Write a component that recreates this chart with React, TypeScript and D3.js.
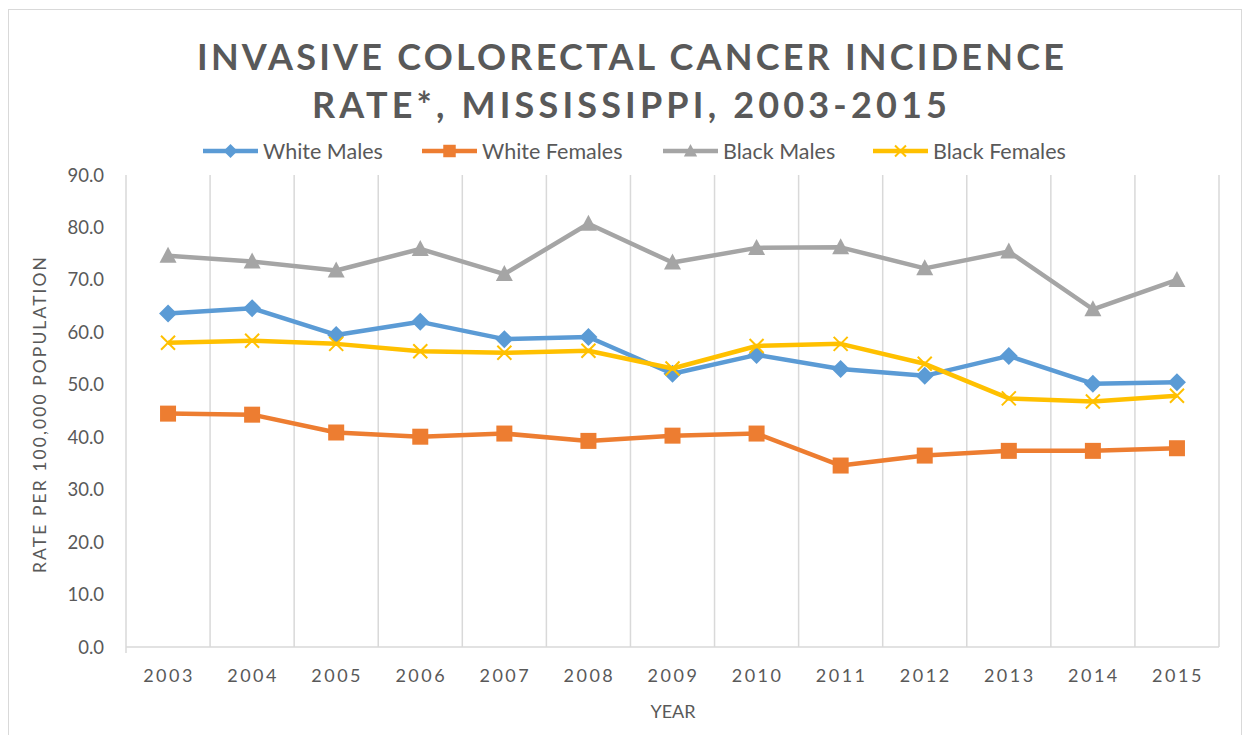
import React, { useEffect, useRef } from 'react';
import * as d3 from 'd3';

const years = ['2003', '2004', '2005', '2006', '2007', '2008', '2009', '2010', '2011', '2012', '2013', '2014', '2015'];
const whiteMales = [63.6, 64.6, 59.5, 62.0, 58.7, 59.1, 52.1, 55.7, 53.0, 51.7, 55.5, 50.2, 50.5];
const whiteFemales = [44.5, 44.3, 40.9, 40.1, 40.7, 39.3, 40.3, 40.7, 34.6, 36.5, 37.4, 37.4, 37.9];
const blackMales = [74.6, 73.5, 71.8, 75.9, 71.1, 80.7, 73.3, 76.1, 76.2, 72.2, 75.4, 64.4, 70.0];
const blackFemales = [58.0, 58.4, 57.8, 56.4, 56.1, 56.5, 53.1, 57.4, 57.8, 54.0, 47.4, 46.8, 47.9];
const yTicks = [0, 10, 20, 30, 40, 50, 60, 70, 80, 90];

const seriesList = [
  { name: 'White Males', values: whiteMales, color: '#5B9BD5', marker: 'diamond' },
  { name: 'White Females', values: whiteFemales, color: '#ED7D31', marker: 'square' },
  { name: 'Black Males', values: blackMales, color: '#A5A5A5', marker: 'triangle' },
  { name: 'Black Females', values: blackFemales, color: '#FFC000', marker: 'x' },
];

const FONT = 'Lato, "Open Sans", sans-serif';
const TEXT = '#595959';

function drawMarker(g, kind, x, y, color, k = 1) {
  if (kind === 'diamond') {
    g.append('path').attr('d', `M${x},${y - 9 * k}L${x + 9 * k},${y}L${x},${y + 9 * k}L${x - 9 * k},${y}Z`).attr('fill', color);
  } else if (kind === 'square') {
    g.append('rect').attr('x', x - 8 * k).attr('y', y - 8 * k).attr('width', 16 * k).attr('height', 16 * k).attr('fill', color);
  } else if (kind === 'triangle') {
    g.append('path').attr('d', `M${x},${y - 9 * k}L${x + 8.5 * k},${y + 7 * k}L${x - 8.5 * k},${y + 7 * k}Z`).attr('fill', color);
  } else {
    g.append('path').attr('d', `M${x - 7 * k},${y - 7 * k}L${x + 7 * k},${y + 7 * k}M${x + 7 * k},${y - 7 * k}L${x - 7 * k},${y + 7 * k}`)
      .attr('stroke', color).attr('stroke-width', 2).attr('fill', 'none');
  }
}

export default function App() {
  const svgRef = useRef(null);

  useEffect(() => {
    const svg = d3.select(svgRef.current);
    svg.selectAll('*').remove();

    const left = 126, right = 1219, top = 175, bottom = 647;

    // chart border
    svg.append('rect').attr('x', 8.5).attr('y', 9.5).attr('width', 1233).attr('height', 760)
      .attr('fill', 'white').attr('stroke', '#d9d9d9');

    const x = d3.scaleBand().domain(years).range([left, right]);
    const y = d3.scaleLinear().domain([0, 90]).range([bottom, top]);
    const cx = (i) => x(years[i]) + x.bandwidth() / 2;

    // title
    const title = svg.append('text').attr('text-anchor', 'middle').attr('font-family', FONT)
      .attr('font-weight', 'bold').attr('font-size', 36).attr('fill', TEXT);
    title.append('tspan').attr('x', 630.5).attr('y', 70).attr('textLength', 867).attr('lengthAdjust', 'spacing')
      .text('INVASIVE COLORECTAL CANCER INCIDENCE');
    title.append('tspan').attr('x', 629.5).attr('y', 118).attr('textLength', 635).attr('lengthAdjust', 'spacing')
      .text('RATE*, MISSISSIPPI, 2003-2015');

    // vertical gridlines at band boundaries
    const grid = svg.append('g');
    years.forEach((yr) => {
      grid.append('line').attr('x1', x(yr) + x.bandwidth()).attr('x2', x(yr) + x.bandwidth())
        .attr('y1', top).attr('y2', bottom).attr('stroke', '#d9d9d9').attr('stroke-width', 1.5);
    });
    grid.append('line').attr('x1', left).attr('x2', left).attr('y1', top).attr('y2', bottom + 6)
      .attr('stroke', '#d9d9d9').attr('stroke-width', 1.5);
    // x axis line
    svg.append('line').attr('x1', left).attr('x2', right).attr('y1', bottom).attr('y2', bottom)
      .attr('stroke', '#d9d9d9').attr('stroke-width', 1.5);

    // y tick labels
    svg.append('g').selectAll('text').data(yTicks).enter().append('text')
      .attr('x', 104).attr('y', (d) => y(d) + 6.5).attr('text-anchor', 'end')
      .attr('font-family', FONT).attr('font-size', 18.5).attr('fill', TEXT)
      .text((d) => d.toFixed(1));

    // x tick labels
    svg.append('g').selectAll('text').data(years).enter().append('text')
      .attr('x', (d) => x(d) + x.bandwidth() / 2 + 1).attr('y', 682).attr('text-anchor', 'middle')
      .attr('font-family', FONT).attr('font-size', 18).attr('fill', TEXT).attr('letter-spacing', 2.5)
      .text((d) => d);

    // axis titles
    svg.append('text').attr('x', 673).attr('y', 718).attr('text-anchor', 'middle')
      .attr('font-family', FONT).attr('font-size', 18).attr('fill', TEXT).text('YEAR');
    svg.append('text').attr('transform', `translate(46,${415}) rotate(-90)`)
      .attr('text-anchor', 'middle').attr('font-family', FONT).attr('font-size', 17.5).attr('fill', TEXT)
      .attr('textLength', 316).attr('lengthAdjust', 'spacing')
      .text('RATE PER 100,000 POPULATION');

    // series
    const line = d3.line().x((d, i) => cx(i)).y((d) => y(d));
    seriesList.forEach((s) => {
      svg.append('path').datum(s.values).attr('d', line).attr('fill', 'none')
        .attr('stroke', s.color).attr('stroke-width', 4.5).attr('stroke-linejoin', 'round');
      const mg = svg.append('g');
      s.values.forEach((v, i) => drawMarker(mg, s.marker, cx(i), y(v), s.color));
    });

    // legend
    const legendX = [203, 422, 663, 873];
    seriesList.forEach((s, i) => {
      const lg = svg.append('g');
      const lx = legendX[i], ly = 151;
      lg.append('line').attr('x1', lx).attr('x2', lx + 55).attr('y1', ly).attr('y2', ly)
        .attr('stroke', s.color).attr('stroke-width', 4.5);
      drawMarker(lg, s.marker, lx + 27.5, ly, s.color, 0.78);
      lg.append('text').attr('x', lx + 60).attr('y', 158.5).attr('font-family', FONT)
        .attr('font-size', 21.5).attr('fill', TEXT).text(s.name);
    });
  }, []);

  return <svg ref={svgRef} width={1250} height={743} style={{ display: 'block', margin: -8 }}></svg>;
}
